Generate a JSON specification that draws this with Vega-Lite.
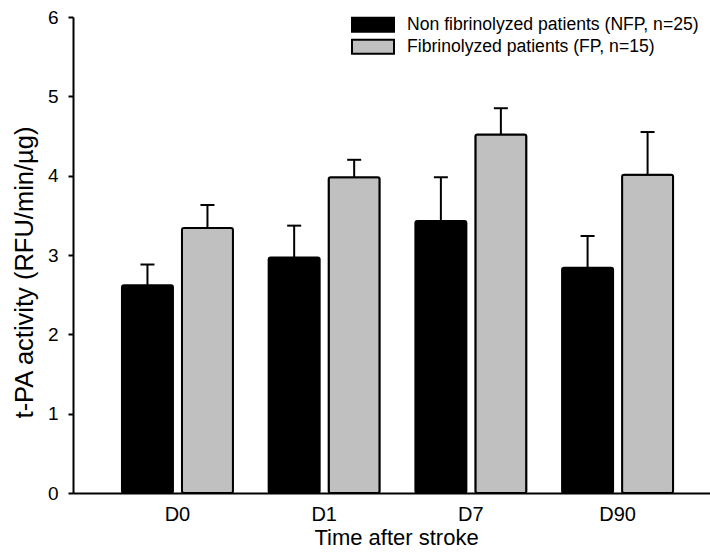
{
  "$schema": "https://vega.github.io/schema/vega-lite/v6.json",
  "width": 637,
  "height": 476,
  "autosize": {"type": "none"},
  "padding": {"left": 73, "top": 17, "right": 0, "bottom": 63},
  "background": "white",
  "config": {
    "view": {"stroke": null},
    "font": "Liberation Sans",
    "axis": {
      "domainColor": "black",
      "domainWidth": 2,
      "tickColor": "black",
      "tickWidth": 2,
      "labelColor": "black",
      "titleColor": "black",
      "labelFont": "Liberation Sans",
      "titleFont": "Liberation Sans",
      "titleFontWeight": "normal",
      "grid": false
    }
  },
  "data": {
    "values": [
      {"day": "D0", "group": "Non fibrinolyzed patients (NFP, n=25)", "value": 2.62, "upper": 2.88},
      {"day": "D0", "group": "Fibrinolyzed patients (FP, n=15)", "value": 3.34, "upper": 3.63},
      {"day": "D1", "group": "Non fibrinolyzed patients (NFP, n=25)", "value": 2.97, "upper": 3.37},
      {"day": "D1", "group": "Fibrinolyzed patients (FP, n=15)", "value": 3.98, "upper": 4.2},
      {"day": "D7", "group": "Non fibrinolyzed patients (NFP, n=25)", "value": 3.43, "upper": 3.98},
      {"day": "D7", "group": "Fibrinolyzed patients (FP, n=15)", "value": 4.52, "upper": 4.85},
      {"day": "D90", "group": "Non fibrinolyzed patients (NFP, n=25)", "value": 2.84, "upper": 3.24},
      {"day": "D90", "group": "Fibrinolyzed patients (FP, n=15)", "value": 4.01, "upper": 4.55}
    ]
  },
  "encoding": {
    "x": {
      "field": "day",
      "type": "nominal",
      "sort": ["D0", "D1", "D7", "D90"],
      "scale": {"paddingInner": 0, "paddingOuter": 0.171, "align": 0.62},
      "axis": {
        "title": "Time after stroke",
        "labelAngle": 0,
        "ticks": false,
        "labelFontSize": 20,
        "titleFontSize": 22,
        "labelPadding": 11,
        "titlePadding": 3,
        "titleX": 323
      }
    },
    "xOffset": {
      "field": "group",
      "type": "nominal",
      "sort": ["Non fibrinolyzed patients (NFP, n=25)", "Fibrinolyzed patients (FP, n=15)"],
      "scale": {"paddingInner": 0.15, "paddingOuter": 0.2975}
    }
  },
  "layer": [
    {
      "mark": {"type": "rule", "stroke": "black", "strokeWidth": 2},
      "encoding": {
        "y": {"field": "value", "type": "quantitative", "title": "t-PA activity (RFU/min/µg)"},
        "y2": {"field": "upper"}
      }
    },
    {
      "mark": {"type": "tick", "color": "black", "size": 14, "thickness": 2, "orient": "horizontal", "opacity": 1},
      "encoding": {
        "y": {"field": "upper", "type": "quantitative", "title": "t-PA activity (RFU/min/µg)"}
      }
    },
    {
      "mark": {"type": "bar", "stroke": "black", "strokeWidth": 2, "cornerRadius": 2},
      "encoding": {
        "y": {
          "field": "value",
          "type": "quantitative",
          "title": "t-PA activity (RFU/min/µg)",
          "scale": {"domain": [0, 6], "nice": false, "zero": true},
          "axis": {
            "values": [0, 1, 2, 3, 4, 5, 6],
            "format": "d",
            "tickSize": 5,
            "labelFontSize": 19,
            "labelPadding": 10,
            "titleFontSize": 25.5,
            "titlePadding": 10,
            "titleY": 255
          }
        },
        "fill": {
          "field": "group",
          "type": "nominal",
          "scale": {
            "domain": ["Non fibrinolyzed patients (NFP, n=25)", "Fibrinolyzed patients (FP, n=15)"],
            "range": ["#000000", "#c0c0c0"]
          },
          "legend": {
            "orient": "none",
            "legendX": 278,
            "legendY": -3,
            "title": null,
            "symbolType": "M-1,-0.333H1V0.333H-1Z",
            "symbolSize": 1764,
            "symbolStrokeColor": "black",
            "symbolStrokeWidth": 2,
            "symbolOpacity": 1,
            "labelFontSize": 17.6,
            "labelColor": "black",
            "labelFont": "Liberation Sans",
            "labelOffset": 12,
            "clipHeight": 21.5,
            "rowPadding": 0,
            "padding": 0,
            "labelLimit": 400
          }
        }
      }
    }
  ]
}
